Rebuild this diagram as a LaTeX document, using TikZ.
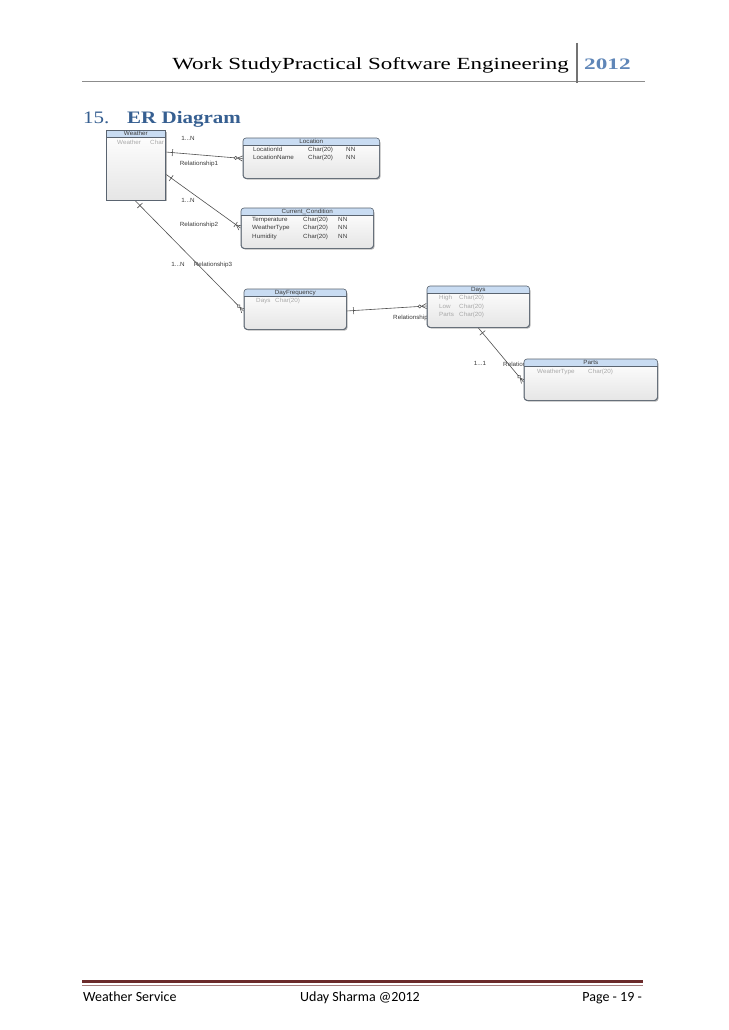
\documentclass[tikz,border=0pt]{standalone}
\usepackage{fontspec}
\setmainfont{Liberation Serif}
\newfontfamily\hdrfont[FakeStretch=1.35]{Liberation Serif}
\newfontfamily\secfont[FakeStretch=1.2]{Liberation Serif}
\newfontfamily\yearfont[FakeStretch=1.45]{Liberation Serif}
\newfontfamily\footfont{Carlito}
\newfontfamily\diagfont[FakeStretch=1.05]{Liberation Sans}
\usetikzlibrary{calc,shadows,decorations.markings}
\definecolor{hdrblue}{HTML}{C9DCF2}
\definecolor{boxc}{HTML}{5A6470}
\definecolor{linec}{HTML}{505050}
\definecolor{headblue}{HTML}{365F91}
\definecolor{yearblue}{HTML}{5F86B8}
\definecolor{footred}{HTML}{6B2A2A}
\definecolor{darktxt}{HTML}{3A3A3A}
\definecolor{lighttxt}{HTML}{A8A8A8}
\tikzset{
  conn/.style={draw=linec, line width=0.6},
  entbox/.style={draw=boxc, line width=0.6, top color=white, bottom color=black!10,
    drop shadow={shadow xshift=1.2pt, shadow yshift=-1.4pt, fill=black!45, opacity=0.6}},
  tiny/.style={font=\diagfont\fontsize{6}{6.5}\selectfont, inner sep=0pt, text height=4.4pt, text depth=1.3pt},
  ttl/.style={tiny, text=darktxt},
  rowd/.style={tiny, text=darktxt, anchor=west},
  rowl/.style={tiny, text=lighttxt, anchor=west},
  lbl/.style={tiny, text=darktxt},
  onestart/.style={postaction={decorate,decoration={markings,
    mark=at position 7pt with {\draw[linec,line width=.6] (0,-3.5pt)--(0,3.5pt);}}}},
  zmanyend/.style={postaction={decorate,decoration={markings,
    mark=at position 1 with {\draw[linec,line width=.6] (-5pt,0)--(0,2.6pt) (-5pt,0)--(0,-2.6pt);
      \draw[linec,line width=.6,fill=white] (-6.8pt,0) circle (1.6pt);}}}},
  omanyend/.style={postaction={decorate,decoration={markings,
    mark=at position 1 with {\draw[linec,line width=.6] (-5pt,0)--(0,2.6pt) (-5pt,0)--(0,-2.6pt)
      (-6pt,-3pt)--(-6pt,3pt);}}}},
}
% #1 name, #2 x, #3 y, #4 w, #5 h, #6 corner radius, #7 title
\newcommand\entity[7]{%
  \node[entbox, rounded corners=#6, anchor=north west, minimum width=#4, minimum height=#5, inner sep=0pt] (#1) at (#2,#3) {};
  \begin{scope}
    \clip[rounded corners=#6] (#1.north west) rectangle (#1.south east);
    \fill[hdrblue] (#1.north west) rectangle ($(#1.north east)+(0,7)$);
  \end{scope}
  \draw[boxc, line width=0.5] ($(#1.north west)+(0,7)$) -- ($(#1.north east)+(0,7)$);
  \draw[boxc, line width=0.6, rounded corners=#6] (#1.north west) rectangle (#1.south east);
  \node[ttl] (#1-title) at ($(#1.north)+(0,3.6)$) {#7};
}
\begin{document}
\begin{tikzpicture}[x=1pt,y=-1pt]
\useasboundingbox[fill=white] (0,0) rectangle (728,1030);

% page header
\node[anchor=base east, font=\hdrfont\fontsize{17}{19}\selectfont, inner sep=0pt] (htitle) at (569,69.5) {Work StudyPractical Software Engineering};
\node[anchor=base west, font=\yearfont\bfseries\fontsize{16}{18}\selectfont, text=yearblue, inner sep=0pt] (hyear) at (584,69.5) {2012};
\draw[black!45, line width=1] (82,82) -- (645,82);
\draw[black!55, line width=1.3] (577,43) -- (577,83);

% section heading
\node[anchor=base west, font=\secfont\fontsize{17.5}{20}\selectfont, text=headblue, inner sep=0pt] (secnum) at (83,124) {15.};
\node[anchor=base west, font=\secfont\bfseries\fontsize{17.5}{20}\selectfont, text=headblue, inner sep=0pt] (sectitle) at (127,124) {ER Diagram};

% footer
\draw[footred, line width=2.8] (82,981.5) -- (643,981.5);
\draw[footred!60, line width=0.6] (82,984.8) -- (643,984.8);
\node[anchor=base west, font=\footfont\fontsize{14}{16}\selectfont, inner sep=0pt] (fl) at (83,1001) {Weather Service};
\node[anchor=base, font=\footfont\fontsize{14}{16}\selectfont, inner sep=0pt] (fc) at (360,1001) {Uday Sharma @2012};
\node[anchor=base east, font=\footfont\fontsize{14}{16}\selectfont, inner sep=0pt] (fr) at (642,1001) {Page - 19 -};

% connector end points
\coordinate (w1) at (165.5,152);
\coordinate (l1) at (242.5,158.5);
\coordinate (w2) at (165.5,174);
\coordinate (c1) at (240.5,228);
\coordinate (w3) at (135,200.5);
\coordinate (d1) at (243.5,311);
\coordinate (d2) at (346.5,311);
\coordinate (y1) at (426.5,306);
\coordinate (y2) at (478,327.5);
\coordinate (p1) at (523.5,382);

% relationship labels (drawn before entities so boxes can cover them)
\node[lbl] (m1) at (188,139) {1...N};
\node[lbl] (r1) at (199,164) {Relationship1};
\node[lbl] (m2) at (188,201) {1...N};
\node[lbl] (r2) at (199,224.5) {Relationship2};
\node[lbl] (m3) at (178,265) {1...N};
\node[lbl] (r3) at (213,265) {Relationship3};
\node[lbl, anchor=west] (r4) at (393,318) {Relationship4};
\node[lbl] (m5) at (480,364) {1...1};
\node[lbl, anchor=west] (r5) at (503,365) {Relationship5};

% connectors
\draw[conn, onestart, zmanyend] (w1) -- (l1);
\draw[conn, onestart, omanyend] (w2) -- (c1);
\draw[conn, onestart, zmanyend] (w3) -- (d1);
\draw[conn, onestart, zmanyend] (d2) -- (y1);
\draw[conn, onestart, zmanyend] (y2) -- (p1);

% entities
\entity{weather}{106}{130.5}{59pt}{69pt}{0pt}{Weather}
\begin{scope}
\clip (weather.north west) rectangle (weather.south east);
\node[rowl] (wr1a) at (117,143) {Weather};
\node[rowl] (wr1b) at (150,143) {Char};
\end{scope}

\entity{loc}{243}{138}{136pt}{40pt}{3pt}{Location}
\node[rowd] (lr1a) at (253,150) {LocationId};
\node[rowd] (lr1b) at (308,150) {Char(20)};
\node[rowd] (lr1c) at (346,150) {NN};
\node[rowd] (lr2a) at (253,158) {LocationName};
\node[rowd] (lr2b) at (308,158) {Char(20)};
\node[rowd] (lr2c) at (346,158) {NN};

\entity{cur}{241}{208}{132pt}{40pt}{3pt}{Current\_Condition}
\node[rowd] (cr1a) at (252,219.5) {Temperature};
\node[rowd] (cr1b) at (303,219.5) {Char(20)};
\node[rowd] (cr1c) at (338,219.5) {NN};
\node[rowd] (cr2a) at (252,228) {WeatherType};
\node[rowd] (cr2b) at (303,228) {Char(20)};
\node[rowd] (cr2c) at (338,228) {NN};
\node[rowd] (cr3a) at (252,236.5) {Humidity};
\node[rowd] (cr3b) at (303,236.5) {Char(20)};
\node[rowd] (cr3c) at (338,236.5) {NN};

\entity{dayf}{244}{289}{102pt}{40pt}{3pt}{DayFrequency}
\node[rowl] (dr1a) at (256,301) {Days};
\node[rowl] (dr1b) at (275,301) {Char(20)};

\entity{days}{427}{286}{102pt}{41pt}{3pt}{Days}
\node[rowl] (yr1a) at (439,298) {High};
\node[rowl] (yr1b) at (459,298) {Char(20)};
\node[rowl] (yr2a) at (439,306.5) {Low};
\node[rowl] (yr2b) at (459,306.5) {Char(20)};
\node[rowl] (yr3a) at (439,315) {Parts};
\node[rowl] (yr3b) at (459,315) {Char(20)};

\entity{parts}{524}{359}{133pt}{41pt}{3pt}{Parts}
\node[rowl] (pr1a) at (537,372) {WeatherType};
\node[rowl] (pr1b) at (588,372) {Char(20)};
\end{tikzpicture}
\end{document}
